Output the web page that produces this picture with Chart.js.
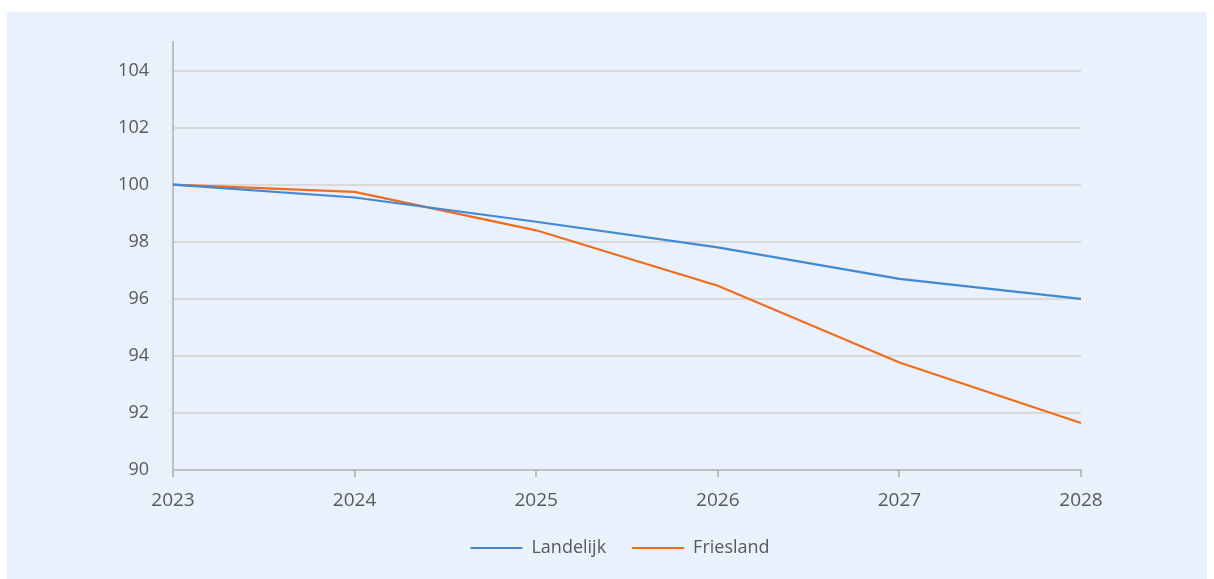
<!DOCTYPE html>
<html>
<head>
<meta charset="utf-8">
<script src="https://cdn.jsdelivr.net/npm/chart.js@4"></script>
<style>
  html, body { margin: 0; padding: 0; background: #ffffff; }
  .for_chart {
    position: absolute; left: 7px; top: 12px;
    width: 1200px; height: 567px;
    background: #e9f1fc;
  }
</style>
</head>
<body>
<div class="for_chart"><canvas id="chart"></canvas></div>
<script>
const years = ["2023", "2024", "2025", "2026", "2027", "2028"];
const landelijk = [100, 99.55, 98.7, 97.8, 96.7, 96.0];
const friesland = [100, 99.75, 98.4, 96.46, 93.77, 91.65];

const textColor = "#595959";
const fontFamily = "'Open Sans', sans-serif";

const ctx = document.getElementById("chart").getContext("2d");
new Chart(ctx, {
  type: "line",
  data: {
    labels: years,
    datasets: [
      {
        label: "Landelijk",
        data: landelijk,
        borderColor: "#4288d4",
        backgroundColor: "#4288d4",
        borderWidth: 2.2,
        pointRadius: 0,
        tension: 0,
        pointStyle: "line",
      },
      {
        label: "Friesland",
        data: friesland,
        borderColor: "#f06c1c",
        backgroundColor: "#f06c1c",
        borderWidth: 2.2,
        pointRadius: 0,
        tension: 0,
        pointStyle: "line",
      },
    ],
  },
  options: {
    responsive: true,
    maintainAspectRatio: false,
    animation: false,
    layout: { padding: { left: 26, right: 0, top: 30, bottom: 12 } },
    plugins: {
      tooltip: { enabled: false },
      legend: {
        position: "bottom",
        labels: {
          usePointStyle: true,
          pointStyleWidth: 52,
          color: textColor,
          padding: 26,
          font: { family: fontFamily, size: 18 },
        },
      },
    },
    scales: {
      x: {
        offset: false,
        afterFit: (scale) => { scale.height = 43; },
        grid: {
          drawOnChartArea: false,
          drawTicks: true,
          tickLength: 7,
          color: "#bfbfbf",
          lineWidth: 2,
        },
        border: { color: "#bfbfbf", width: 2 },
        ticks: {
          color: textColor,
          padding: 12,
          maxRotation: 0,
          font: { family: fontFamily, size: 19 },
        },
      },
      y: {
        min: 90,
        max: 105,
        afterFit: (scale) => {
          scale.width = 140;
          scale.paddingTop = 0;
          scale.paddingBottom = 0;
        },
        afterBuildTicks: (scale) => {
          scale.ticks = scale.ticks.filter((t) => t.value % 2 === 0);
        },
        grid: {
          drawTicks: false,
          color: (c) => (c.tick && c.tick.value === 90 ? "transparent" : "#d9d9d9"),
          lineWidth: 2,
        },
        border: { color: "#bfbfbf", width: 2 },
        ticks: {
          stepSize: 2,
          color: textColor,
          padding: 24,
          font: { family: fontFamily, size: 18 },
        },
      },
      // empty right-hand axis, only to keep the plot narrower than the panel
      yRight: {
        position: "right",
        min: 90,
        max: 105,
        afterFit: (scale) => {
          scale.width = 126;
          scale.paddingTop = 0;
          scale.paddingBottom = 0;
        },
        grid: { display: false, drawTicks: false },
        border: { display: false },
        ticks: { display: false },
      },
    },
  },
});
</script>
</body>
</html>
